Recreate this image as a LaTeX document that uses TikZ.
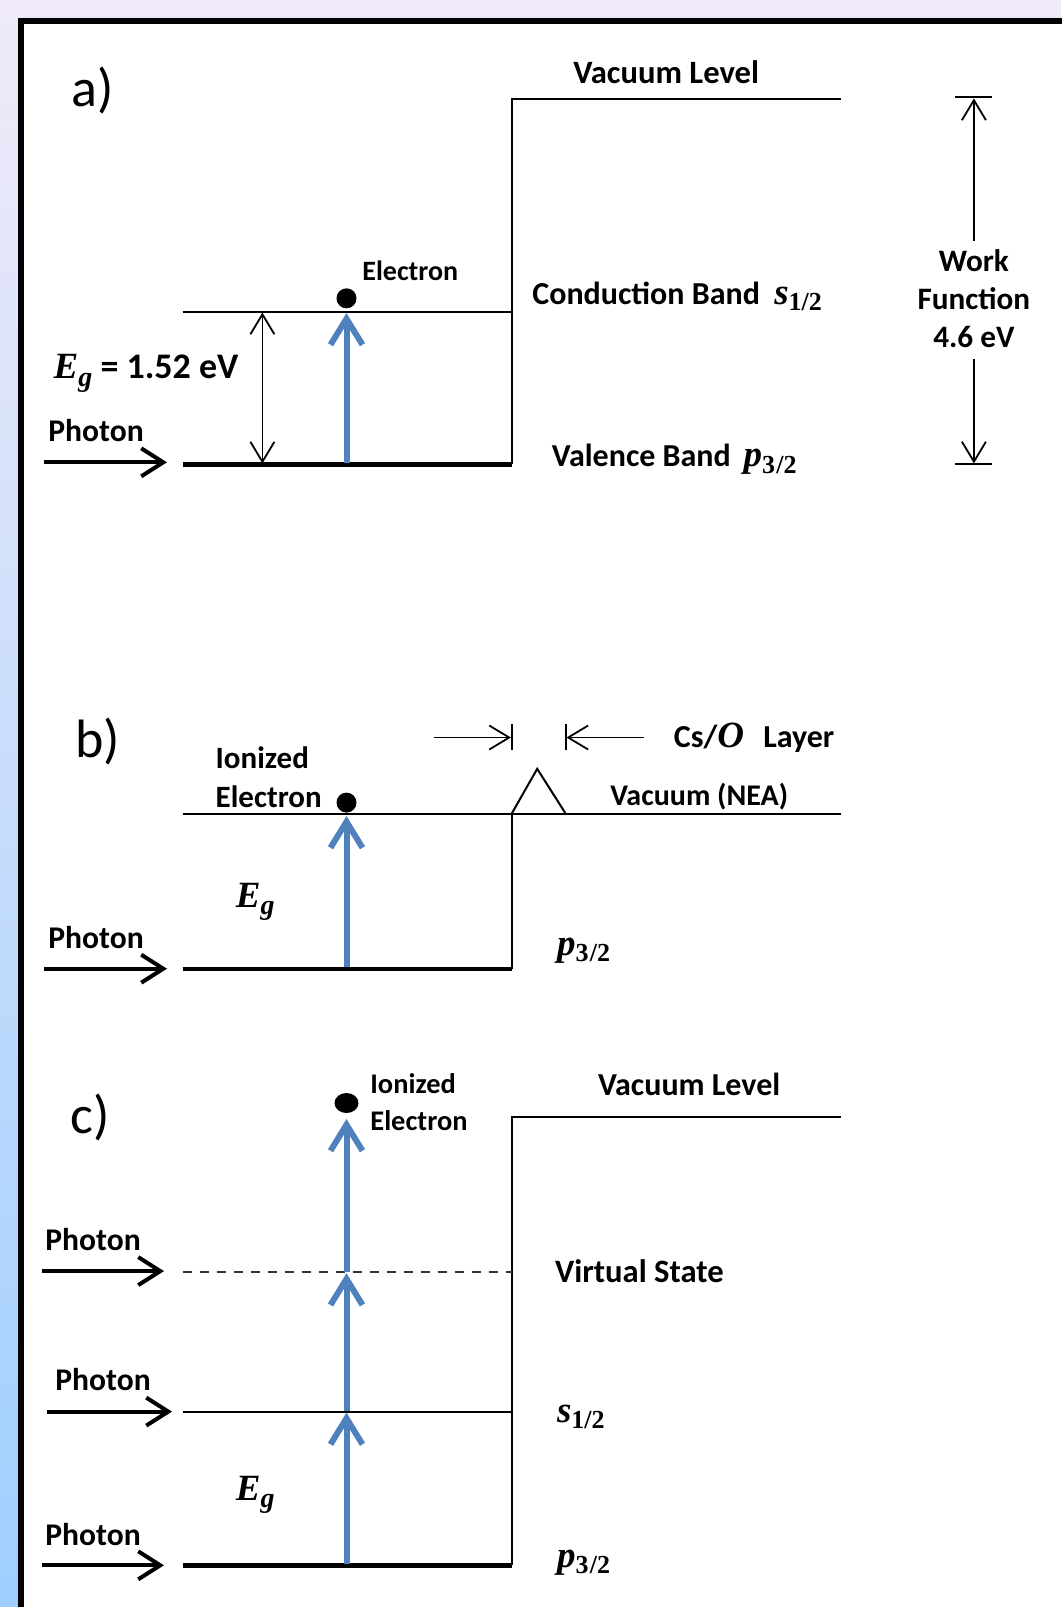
\documentclass[tikz,border=0pt]{standalone}
\usepackage{fontspec}
\setmainfont{Carlito}
\newfontfamily\cambria{Liberation Serif}
\usetikzlibrary{arrows.meta}
\definecolor{arrowblue}{HTML}{4F81BD}
\definecolor{lav}{HTML}{F0EAF8}
\definecolor{sideblue}{HTML}{9ECFFF}
\definecolor{dashgray}{HTML}{333333}
\newcommand\mv[1]{{\cambria\bfseries\itshape\fontsize{18.5}{20}\selectfont #1}}
\newcommand\msub[1]{\raisebox{-0.4ex}{\cambria\bfseries\fontsize{13}{14}\selectfont #1}}
\newcommand\msubi[1]{\raisebox{-0.45ex}{\cambria\bfseries\itshape\fontsize{14}{15}\selectfont #1}}
\tikzset{
  lbl/.style={font=\fontsize{16}{18}\selectfont\bfseries, inner sep=0pt},
  photonlbl/.style={font=\fontsize{15.8}{18}\selectfont\bfseries, inner sep=0pt},
  small/.style={font=\fontsize{14}{16}\selectfont\bfseries, inner sep=0pt},
  panel/.style={font=\fontsize{27}{30}\selectfont, inner sep=0pt},
  level/.style={line width=1pt},
  thicklevel/.style={line width=2.2pt},
  photon/.style={line width=2pt, -{Straight Barb[length=11pt,width=14pt]}},
  excite/.style={line width=3pt, arrowblue, -{Straight Barb[length=13pt,width=16pt]}},
  dimarrow/.style={line width=0.9pt, {Straight Barb[length=10pt,width=12pt]}-{Straight Barb[length=10pt,width=12pt]}},
  halfarrow/.style={line width=0.9pt, -{Straight Barb[length=10pt,width=12pt]}},
  dot/.style={fill=black, draw=none}
}
\begin{document}
\begin{tikzpicture}[x=0.5pt,y=-0.5pt]
\useasboundingbox (0,0) rectangle (1061,1607);
% background
\fill[white] (0,0) rectangle (1061,1607);
\fill[lav] (0,0) rectangle (1061,21);
\shade[top color=lav, bottom color=sideblue] (0,0) rectangle (21,1607);
\draw[line width=3pt] (21,1610) -- (21,21) -- (1064,21);

% ================= panel a =================
\node[panel] (pa) at (93,90) {a)};
\coordinate (aL) at (182.5,311.6);
\coordinate (aV) at (511.5,311.6);
\coordinate (aVBL) at (182.5,464.4);
\coordinate (aVBR) at (511.5,464.4);
\coordinate (aVacL) at (511.5,99.4);
\coordinate (aVacR) at (840.6,99.4);
\draw[level] (aL) -- (aV);
\draw[thicklevel] (aVBL) -- (aVBR);
\draw[level] (aVBR) -- (aVacL) -- (aVacR);
% Eg dimension arrow
\coordinate (aEgT) at (262.4,312.5);
\coordinate (aEgB) at (262.4,463.5);
\draw[dimarrow] (aEgB) -- (aEgT);
% excitation
\coordinate (aBb) at (346.5,463);
\coordinate (aBt) at (346.5,313);
\draw[excite] (aBb) -- (aBt);
\fill[dot] (346.5,298.3) circle (5pt);
% photon
\coordinate (aPh0) at (44,462.3);
\coordinate (aPh1) at (167,462.3);
\draw[photon] (aPh0) -- (aPh1);
\node[photonlbl,anchor=west] (aPhT) at (48,430.6) {Photon};
\node[small,anchor=west] (aEl) at (362,270.6) {Electron};
\node[lbl,anchor=west,font=\fontsize{16.3}{18}\selectfont\bfseries] (aVac) at (573,71.8) {Vacuum Level};
\node[lbl,anchor=west] (aCB) at (532,296.3) {Conduction Band\hspace{0.45em}\mv{s}\msub{1/2}};
\node[lbl,anchor=west] (aVBt) at (551.5,459.5) {Valence Band\hspace{0.4em}\mv{p}\msub{3\hspace{0.05em}/2}};
\node[lbl,anchor=west,font=\fontsize{18}{20}\selectfont\bfseries] (aEg) at (53.3,373) {\mv{E}\msubi{g} = 1.52 eV};
% work function
\coordinate (wfT) at (973.9,98.4);
\coordinate (wf1) at (973.9,241);
\coordinate (wf2) at (973.9,358.8);
\coordinate (wfB) at (973.9,463.4);
\draw[halfarrow] (wf1) -- (wfT);
\draw[halfarrow] (wf2) -- (wfB);
\draw[line width=1pt] (955,97.4) -- (992,97.4);
\draw[line width=1pt] (955,464.4) -- (992,464.4);
\node[lbl,font=\fontsize{15.6}{18}\selectfont\bfseries] (wfa) at (973.9,260.4) {Work};
\node[lbl,font=\fontsize{15.6}{18}\selectfont\bfseries] (wfb) at (973.9,298.3) {Function};
\node[lbl,font=\fontsize{15.6}{18}\selectfont\bfseries] (wfc) at (973.9,337.3) {4.6 eV};

% ================= panel b =================
\node[panel] (pb) at (97.4,741.2) {b)};
\coordinate (bL) at (182.5,814);
\coordinate (bV) at (511.5,814);
\coordinate (bT) at (537.2,768.8);
\coordinate (bF) at (565.9,814);
\coordinate (bR) at (840.6,814);
\coordinate (bVBL) at (182.5,968.7);
\coordinate (bVBR) at (511.5,968.7);
\draw[level] (bL) -- (bR);
\draw[level] (bV) -- (bT) -- (bF);
\draw[thicklevel] (bVBL) -- (bVBR);
\draw[level] (bVBR) -- (bV);
% Cs/O layer markers
\coordinate (csA) at (433.6,737.5);
\coordinate (csB) at (511,737.5);
\coordinate (csC) at (643.8,737.5);
\coordinate (csD) at (566.4,737.5);
\draw[halfarrow] (csA) -- (csB);
\draw[halfarrow] (csC) -- (csD);
\draw[line width=1pt] (511.5,723.7) -- (511.5,750.4);
\draw[line width=1pt] (565.9,723.7) -- (565.9,750.4);
\node[lbl,anchor=west] (csT) at (673.5,738.1) {Cs/\mv{O}\hspace{0.6em}Layer};
\node[lbl,anchor=west,font=\fontsize{15}{18}\selectfont\bfseries] (nea) at (610,796.5) {Vacuum (NEA)};
\node[lbl,anchor=west,font=\fontsize{15.5}{18}\selectfont\bfseries] (bIon) at (215.3,757.6) {Ionized};
\node[lbl,anchor=west,font=\fontsize{15.5}{18}\selectfont\bfseries] (bEl) at (215.3,796.5) {Electron};
\coordinate (bBb) at (346.5,967);
\coordinate (bBt) at (346.5,816);
\draw[excite] (bBb) -- (bBt);
\fill[dot] (346.5,802.6) circle (5pt);
\node[lbl] (bEg) at (255.3,902) {\mv{E}\msubi{g}};
\coordinate (bPh0) at (44,968.7);
\coordinate (bPh1) at (167,968.7);
\draw[photon] (bPh0) -- (bPh1);
\node[photonlbl,anchor=west] (bPhT) at (48,938) {Photon};
\node[lbl,anchor=west] (bp) at (556.6,950.3) {\mv{p}\msub{3\hspace{0.05em}/2}};

% ================= panel c =================
\node[panel] (pc) at (90.2,1117.4) {c)};
\coordinate (cVacL) at (511.5,1117.4);
\coordinate (cVacR) at (840.6,1117.4);
\coordinate (cVirL) at (182.5,1272.2);
\coordinate (cVirR) at (511.5,1272.2);
\coordinate (cSL) at (182.5,1411.6);
\coordinate (cSR) at (511.5,1411.6);
\coordinate (cPL) at (182.5,1565.3);
\coordinate (cPR) at (511.5,1565.3);
\draw[level] (cVacR) -- (cVacL) -- (cPR);
\draw[line width=1pt, dashgray, dash pattern=on 4.5pt off 4pt] (cVirL) -- (cVirR);
\draw[level] (cSL) -- (cSR);
\draw[thicklevel] (cPL) -- (cPR);
\coordinate (c1) at (346.5,1564);
\coordinate (c2) at (346.5,1412.6);
\coordinate (c3) at (346.5,1411);
\coordinate (c4) at (346.5,1273.2);
\coordinate (c5) at (346.5,1271.5);
\coordinate (c6) at (346.5,1119);
\draw[excite] (c1) -- (c2);
\draw[excite] (c3) -- (c4);
\draw[excite] (c5) -- (c6);
\fill[dot] (346.5,1103) ellipse (6pt and 5pt);
\node[small,anchor=west,font=\fontsize{14.2}{16}\selectfont\bfseries] (cIon) at (370,1083.6) {Ionized};
\node[small,anchor=west,font=\fontsize{14.2}{16}\selectfont\bfseries] (cEl) at (370,1120.5) {Electron};
\node[lbl,anchor=west] (cVac) at (597.6,1084.6) {Vacuum Level};
\node[lbl,anchor=west,font=\fontsize{16.3}{18}\selectfont\bfseries] (cVir) at (554.6,1271.2) {Virtual State};
\node[lbl,anchor=west] (cs) at (556.6,1416.7) {\mv{s}\msub{1/2}};
\node[lbl,anchor=west] (cp) at (556.6,1562.3) {\mv{p}\msub{3\hspace{0.05em}/2}};
\node[lbl] (cEg) at (255.3,1494.5) {\mv{E}\msubi{g}};
\coordinate (cPh0a) at (42,1271.1);
\coordinate (cPh1a) at (164,1271.1);
\coordinate (cPh0b) at (47,1411.6);
\coordinate (cPh1b) at (172,1411.6);
\coordinate (cPh0c) at (42,1565.3);
\coordinate (cPh1c) at (164,1565.3);
\draw[photon] (cPh0a) -- (cPh1a);
\draw[photon] (cPh0b) -- (cPh1b);
\draw[photon] (cPh0c) -- (cPh1c);
\node[photonlbl,anchor=west] (cPhA) at (45,1239.4) {Photon};
\node[photonlbl,anchor=west] (cPhB) at (55,1379.8) {Photon};
\node[photonlbl,anchor=west] (cPhC) at (45,1534.6) {Photon};
\end{tikzpicture}
\end{document}
